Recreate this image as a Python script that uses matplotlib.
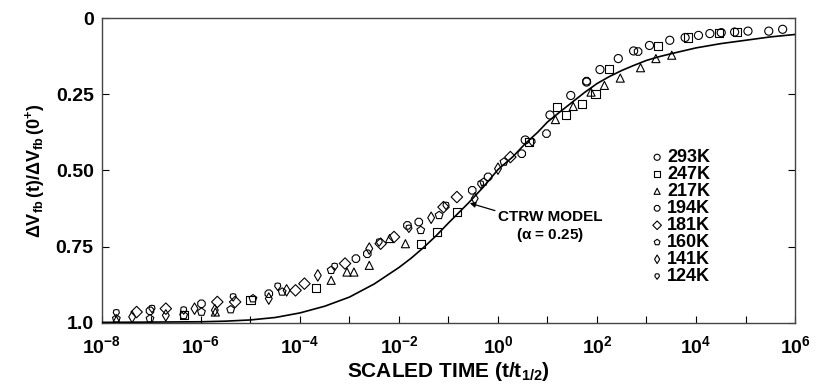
import matplotlib
matplotlib.use('Agg')
import matplotlib.pyplot as plt
from matplotlib.path import Path
import numpy as np

plt.rcParams['font.family'] = ['Liberation Sans', 'DejaVu Sans']
plt.rcParams['font.weight'] = 'bold'
plt.rcParams['mathtext.fontset'] = 'custom'
plt.rcParams['mathtext.rm'] = 'Liberation Sans:bold'
plt.rcParams['mathtext.it'] = 'Liberation Sans:bold'
plt.rcParams['mathtext.bf'] = 'Liberation Sans:bold'

# CTRW model curve (log10 of scaled time, normalized shift)
model_logt = [-8, -7, -6, -5.5, -5, -4.5, -4, -3.5, -3, -2.5, -2, -1.75, -1.5, -1.25, -1,
              -0.6, -0.3, 0, 0.3, 0.55, 0.8, 1, 1.25, 1.5, 1.75, 2, 2.25, 2.5, 2.75,
              3, 3.25, 3.5, 4, 4.5, 5, 5.5, 6]
model_y = [0.998, 0.997, 0.996, 0.994, 0.990, 0.982, 0.967, 0.945, 0.915, 0.872, 0.818,
           0.787, 0.752, 0.714, 0.672, 0.607, 0.555, 0.497, 0.455, 0.412, 0.375, 0.341,
           0.308, 0.276, 0.244, 0.215, 0.192, 0.172, 0.155, 0.139, 0.127, 0.117, 0.098,
           0.084, 0.073, 0.062, 0.054]

temps = ['293K', '247K', '217K', '194K', '181K', '160K', '141K', '124K']

# shield-like outline for the 124K symbol
shield = Path([(0, -1), (0.75, 0), (0.6, 0.7), (0, 0.85), (-0.6, 0.7), (-0.75, 0), (0, -1)],
              [Path.MOVETO] + [Path.LINETO] * 5 + [Path.CLOSEPOLY])
markers = ['o', 's', '^', '8', 'D', 'p', 'd', shield]

logt_293 = [5.75, 5.47, 5.05, 4.78, 4.51, 4.28, 4.05, 3.78, 3.47, 3.06, 2.74, 2.43, 2.06, 1.79, 1.47, 1.05, 0.55]
y_293 = [0.037, 0.043, 0.043, 0.046, 0.048, 0.051, 0.057, 0.064, 0.073, 0.090, 0.108, 0.133, 0.169, 0.210, 0.254, 0.318, 0.400]

logt_247 = [4.82, 4.46, 3.83, 3.24, 2.24, 1.97, 1.70, 1.38, 1.20, 0.62, -0.83, -1.24, -1.56, -3.68, -5.0, -6.35]
y_247 = [0.046, 0.048, 0.064, 0.092, 0.166, 0.250, 0.283, 0.317, 0.292, 0.407, 0.636, 0.702, 0.740, 0.884, 0.925, 0.975]

logt_217 = [3.51, 3.19, 2.88, 2.47, 2.15, 1.88, 1.52, 1.16, -1.87, -2.19, -2.60, -2.91, -3.05, -3.37, -5.71, -7.71]
y_217 = [0.122, 0.133, 0.163, 0.197, 0.221, 0.243, 0.290, 0.333, 0.740, 0.723, 0.811, 0.833, 0.833, 0.860, 0.964, 0.990]

logt_194 = [2.83, 1.79, 0.98, 0.48, -0.20, -0.52, -1.60, -1.83, -2.64, -2.87, -4.63, -5.99, -7.03]
y_194 = [0.110, 0.207, 0.379, 0.445, 0.521, 0.565, 0.669, 0.680, 0.773, 0.789, 0.904, 0.937, 0.960]

logt_181 = [0.25, -0.83, -1.10, -2.10, -2.37, -3.09, -3.91, -4.09, -5.31, -5.67, -6.71, -7.30]
y_181 = [0.456, 0.587, 0.620, 0.718, 0.740, 0.805, 0.871, 0.893, 0.931, 0.931, 0.953, 0.964]

logt_160 = [0.12, -0.29, -1.19, -1.56, -3.37, -4.36, -4.95, -5.40, -5.99, -6.35, -7.03, -7.71]
y_160 = [0.472, 0.538, 0.647, 0.696, 0.827, 0.898, 0.920, 0.956, 0.964, 0.975, 0.986, 0.986]

logt_141 = [0.0, -0.47, -1.35, -2.60, -3.64, -4.27, -4.63, -5.72, -6.13, -6.71, -7.39]
y_141 = [0.494, 0.592, 0.655, 0.756, 0.844, 0.893, 0.920, 0.958, 0.953, 0.975, 0.980]

logt_124 = [0.69, -0.35, -1.05, -1.80, -2.40, -3.30, -4.45, -5.35, -6.35, -6.99, -7.71]
y_124 = [0.407, 0.545, 0.615, 0.690, 0.735, 0.815, 0.880, 0.915, 0.958, 0.953, 0.967]

series = [(logt_293, y_293), (logt_247, y_247), (logt_217, y_217), (logt_194, y_194),
          (logt_181, y_181), (logt_160, y_160), (logt_141, y_141), (logt_124, y_124)]

fig = plt.figure(figsize=(8.19, 3.89), dpi=100)
ax = fig.add_axes([0.1245, 0.1697, 0.8462, 0.784])

ax.plot(10 ** np.array(model_logt), model_y, color='black', lw=1.2, zorder=3)

for (lt, yv), m, lab in zip(series, markers, temps):
    ax.scatter(10 ** np.array(lt), yv, marker=m, s=34, facecolors='none',
               edgecolors='black', linewidths=0.8, label=lab, zorder=4)

ax.set_xscale('log')
ax.set_xlim(1e-8, 1e6)
ax.set_ylim(1.0, 0.0)

ax.set_xticks([10.0 ** k for k in range(-8, 7, 2)])
ax.set_xticklabels([r'$\mathbf{10^{%d}}$' % k for k in range(-8, 7, 2)], fontsize=14)
ax.set_xticks([10.0 ** k for k in range(-7, 6, 2)], minor=True)
ax.xaxis.set_minor_formatter(matplotlib.ticker.NullFormatter())
ax.set_yticks([0, 0.25, 0.5, 0.75, 1.0])
ax.set_yticklabels(['0', '0.25', '0.50', '0.75', '1.0'], fontsize=14, fontweight='bold')
ax.tick_params(axis='both', which='both', direction='in', length=5, width=0.8,
               top=False, right=True, pad=6)
ax.tick_params(axis='x', which='major', pad=9)

ax.set_xlabel(r'SCALED TIME (t/t$_{\mathbf{1/2}}$)', fontsize=15, fontweight='bold', labelpad=2)
ax.set_ylabel(r'$\mathbf{\Delta V_{fb}\,(t)/\Delta V_{fb}\,(0^{+})}$', fontsize=13, labelpad=6)

for s in ax.spines.values():
    s.set_linewidth(1.0)
    s.set_color('#444444')

ax.annotate('CTRW MODEL\n' + r'($\alpha$ = 0.25)', xy=(10 ** -0.57, 0.607),
            xytext=(10 ** 1.05, 0.685), fontsize=11, fontweight='bold', ha='center', va='center',
            arrowprops=dict(arrowstyle='-|>', color='black', lw=0.9, shrinkA=24, shrinkB=0,
                            mutation_scale=8))

ax.legend(loc='upper left', bbox_to_anchor=(0.775, 0.60), frameon=False,
          handletextpad=0.05, labelspacing=0.0, handlelength=1.0, borderpad=0,
          markerscale=0.75, prop={'weight': 'bold', 'size': 13})

fig.savefig('out.png', dpi=100)
